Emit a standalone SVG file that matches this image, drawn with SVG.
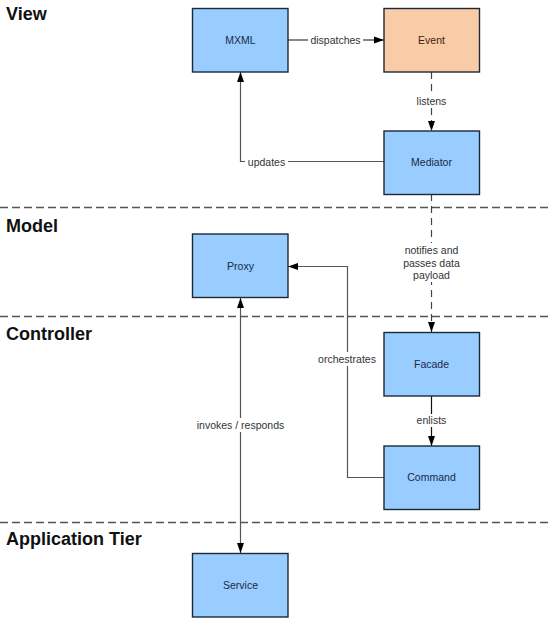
<svg xmlns="http://www.w3.org/2000/svg" width="552" height="618" viewBox="0 0 552 618">
<defs>
<marker id="ah" viewBox="0 0 10 10" refX="10" refY="5" markerWidth="10" markerHeight="10" markerUnits="userSpaceOnUse" orient="auto-start-reverse">
<path d="M0,1.5 L10,5 L0,8.5 Z" fill="#000"/>
</marker>
<style>
.lane{font-family:"Liberation Sans",Arial,sans-serif;font-weight:bold;font-size:18px;fill:#111}
.sep{stroke:#555;stroke-width:1.4;stroke-dasharray:8 4;fill:none}
.box{fill:#99CCFF;stroke:#1c2a38;stroke-width:1.4}
.evt{fill:#F9CBA6;stroke:#1c2a38;stroke-width:1.4}
.bt{font-family:"Liberation Sans",Arial,sans-serif;font-size:10.5px;fill:#1a2a48;text-anchor:middle;dominant-baseline:central}
.et{font-family:"Liberation Sans",Arial,sans-serif;font-size:10.5px;fill:#3a2210;text-anchor:middle;dominant-baseline:central}
.ln{stroke:#555;stroke-width:1.2;fill:none}
.dk{stroke:#111;stroke-width:1.2;fill:none}
.dl{stroke:#444;stroke-width:1.2;fill:none;stroke-dasharray:7 5}
.lb{font-family:"Liberation Sans",Arial,sans-serif;font-size:10.5px;fill:#333;text-anchor:middle;dominant-baseline:central}
.bg{fill:#fff}
</style>
</defs>
<rect width="552" height="618" fill="#fff"/>
<g id="lanes">
<line class="sep" x1="0" y1="207.5" x2="552" y2="207.5"/>
<line class="sep" x1="0" y1="316.5" x2="552" y2="316.5"/>
<line class="sep" x1="0" y1="522.5" x2="552" y2="522.5"/>
<text class="lane" x="6" y="20">View</text>
<text class="lane" x="6" y="232">Model</text>
<text class="lane" x="6" y="339.5">Controller</text>
<text class="lane" x="6" y="545">Application Tier</text>
</g>
<g id="connectors">
<line class="dk" x1="288" y1="40" x2="384" y2="40" marker-end="url(#ah)"/>
<rect class="bg" x="308" y="34" width="55" height="12"/>
<text class="lb" x="335.5" y="40">dispatches</text>
<line class="dl" x1="431.5" y1="72" x2="431.5" y2="131" marker-end="url(#ah)"/>
<rect class="bg" x="413" y="94" width="37" height="13"/>
<text class="lb" x="431.5" y="100.5">listens</text>
<polyline class="ln" points="384,161.5 240.5,161.5 240.5,72" marker-end="url(#ah)"/>
<rect class="bg" x="245" y="155" width="43" height="13"/>
<text class="lb" x="266.5" y="161.5">updates</text>
<line class="dl" x1="431.5" y1="194" x2="431.5" y2="332" marker-end="url(#ah)"/>
<rect class="bg" x="396" y="243" width="71" height="39"/>
<text class="lb" x="431.5" y="250">notifies and</text>
<text class="lb" x="431.5" y="262.5">passes data</text>
<text class="lb" x="431.5" y="275">payload</text>
<line class="dk" x1="431.5" y1="396" x2="431.5" y2="446" marker-end="url(#ah)"/>
<rect class="bg" x="413" y="414" width="37" height="13"/>
<text class="lb" x="431.5" y="420">enlists</text>
<polyline class="ln" points="384,477.5 347.5,477.5 347.5,266.5 288,266.5" marker-end="url(#ah)"/>
<rect class="bg" x="315" y="352" width="64" height="14"/>
<text class="lb" x="347" y="359">orchestrates</text>
<line class="ln" x1="240.5" y1="298" x2="240.5" y2="553" marker-start="url(#ah)" marker-end="url(#ah)"/>
<rect class="bg" x="193" y="418" width="95" height="14"/>
<text class="lb" x="240.5" y="425">invokes / responds</text>
</g>
<g id="mxml"><rect class="box" x="192.5" y="8.5" width="95.5" height="63.5"/><text class="bt" x="240.5" y="40">MXML</text></g>
<g id="event"><rect class="evt" x="384" y="8.5" width="95.5" height="63.5"/><text class="et" x="431.5" y="40">Event</text></g>
<g id="mediator"><rect class="box" x="384" y="131" width="95.5" height="63.5"/><text class="bt" x="431.5" y="162">Mediator</text></g>
<g id="proxy"><rect class="box" x="192.5" y="234" width="95.5" height="63.5"/><text class="bt" x="240.5" y="265.5">Proxy</text></g>
<g id="facade"><rect class="box" x="384" y="332.5" width="95.5" height="63.5"/><text class="bt" x="431.5" y="363.5">Facade</text></g>
<g id="command"><rect class="box" x="384" y="446" width="95.5" height="63.5"/><text class="bt" x="431.5" y="477">Command</text></g>
<g id="service"><rect class="box" x="192.5" y="553.5" width="95.5" height="63.5"/><text class="bt" x="240.5" y="584.5">Service</text></g>
</svg>
